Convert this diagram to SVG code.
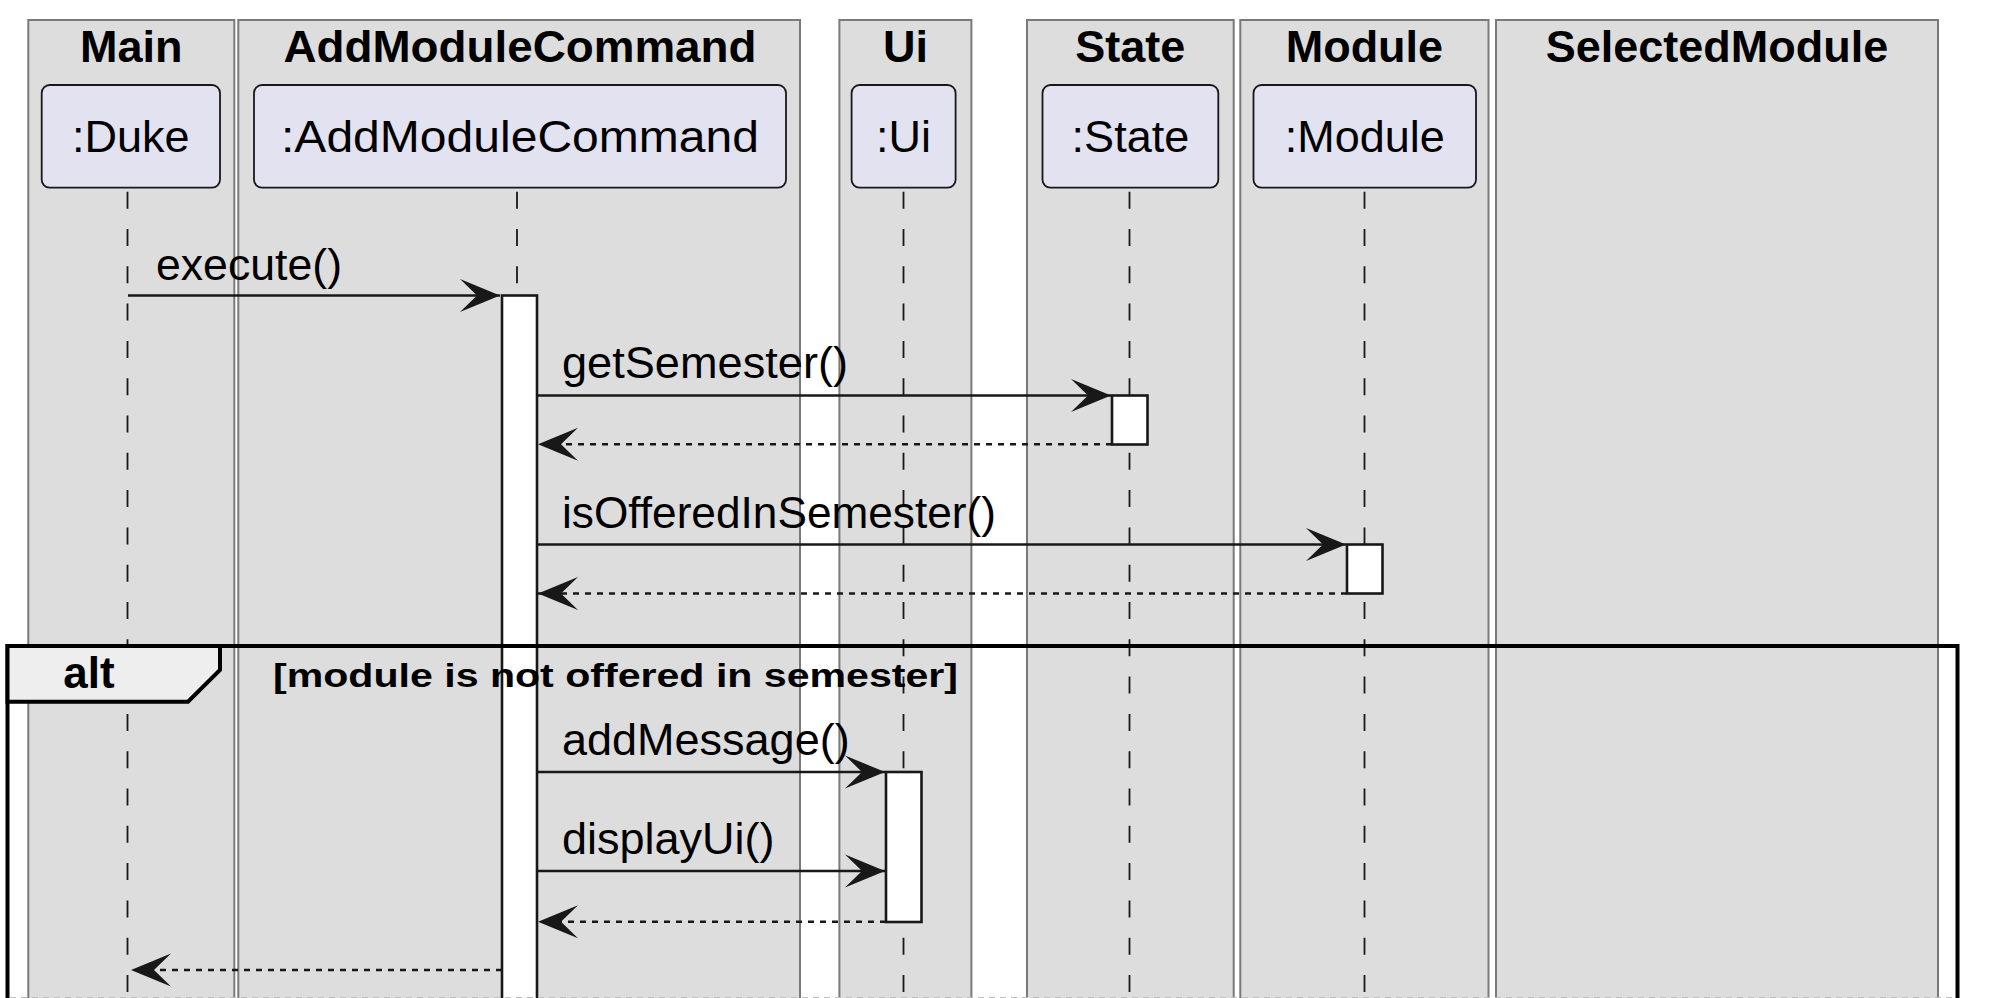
<svg xmlns="http://www.w3.org/2000/svg" width="1990" height="998" viewBox="0 0 1990 998">
<defs>
<style>
.box{fill:#DDDDDD;stroke:#7a7a7a;stroke-width:2}
.title{font-family:"Liberation Sans",Arial,sans-serif;font-weight:bold;font-size:45px;fill:#000;text-anchor:middle}
.part{fill:#E2E2F0;stroke:#181818;stroke-width:1.8}
.ptext{font-family:"Liberation Sans",Arial,sans-serif;font-size:45px;fill:#000;text-anchor:middle}
.life{stroke:#181818;stroke-width:1.8;stroke-dasharray:17,20.3;fill:none}
.act{fill:#FFFFFF;stroke:#181818;stroke-width:2.6}
.msg{stroke:#181818;stroke-width:2.6;fill:none;marker-end:url(#arr)}
.ret{stroke:#181818;stroke-width:2.6;fill:none;stroke-dasharray:6,6;marker-end:url(#arr)}
.mtext{font-family:"Liberation Sans",Arial,sans-serif;font-size:45px;fill:#000}
.frame{fill:none;stroke:#000;stroke-width:4}
.tab{fill:#EEEEEE;stroke:#000;stroke-width:4;stroke-linejoin:miter}
.alt{font-family:"Liberation Sans",Arial,sans-serif;font-weight:bold;font-size:44px;fill:#000;text-anchor:middle}
.guard{font-family:"Liberation Sans",Arial,sans-serif;font-weight:bold;font-size:34px;fill:#000}
</style>
<marker id="arr" viewBox="-41 -17 42 34" refX="0" refY="0" markerWidth="42" markerHeight="34" markerUnits="userSpaceOnUse" orient="auto">
<path d="M0,0 L-40,-16.5 L-23,0 L-40,16.5 Z" fill="#181818" stroke="none"/>
</marker>
</defs>
<rect width="1990" height="998" fill="#FFFFFF"/>

<g id="box-Main">
<rect class="box" x="28.3" y="20" width="206" height="1000"/>
<text class="title" x="131.3" y="61.7">Main</text>
</g>
<g id="box-AddModuleCommand">
<rect class="box" x="238.3" y="20" width="561.7" height="1000"/>
<text class="title" x="520" y="61.7" textLength="473" lengthAdjust="spacingAndGlyphs">AddModuleCommand</text>
</g>
<g id="box-Ui">
<rect class="box" x="839.4" y="20" width="132" height="1000"/>
<text class="title" x="905.4" y="61.7">Ui</text>
</g>
<g id="box-State">
<rect class="box" x="1027" y="20" width="206.7" height="1000"/>
<text class="title" x="1130.3" y="61.7">State</text>
</g>
<g id="box-Module">
<rect class="box" x="1240.3" y="20" width="248.2" height="1000"/>
<text class="title" x="1364.4" y="61.7">Module</text>
</g>
<g id="box-SelectedModule">
<rect class="box" x="1496" y="20" width="442" height="1000"/>
<text class="title" x="1717" y="61.7">SelectedModule</text>
</g>

<g id="lifelines">
<line class="life" x1="127.5" y1="191.7" x2="127.5" y2="998"/>
<line class="life" x1="517" y1="191.7" x2="517" y2="998"/>
<line class="life" x1="903.5" y1="191.7" x2="903.5" y2="998"/>
<line class="life" x1="1129.5" y1="191.7" x2="1129.5" y2="998"/>
<line class="life" x1="1364.5" y1="191.7" x2="1364.5" y2="998"/>
</g>

<g id="p-Duke">
<rect class="part" x="41.7" y="85" width="178.3" height="102.7" rx="8"/>
<text class="ptext" x="130.8" y="152.3">:Duke</text>
</g>
<g id="p-AddModuleCommand">
<rect class="part" x="254" y="85" width="532" height="102.7" rx="8"/>
<text class="ptext" x="520" y="152.3" textLength="478" lengthAdjust="spacingAndGlyphs">:AddModuleCommand</text>
</g>
<g id="p-Ui">
<rect class="part" x="851.6" y="85" width="104" height="102.7" rx="8"/>
<text class="ptext" x="903.6" y="152.3">:Ui</text>
</g>
<g id="p-State">
<rect class="part" x="1042.5" y="85" width="175.8" height="102.7" rx="8"/>
<text class="ptext" x="1130.4" y="152.3">:State</text>
</g>
<g id="p-Module">
<rect class="part" x="1253.5" y="85" width="222.5" height="102.7" rx="8"/>
<text class="ptext" x="1364.7" y="152.3">:Module</text>
</g>

<g id="activations">
<rect class="act" x="502" y="295.5" width="35" height="720"/>
<rect class="act" x="1112" y="395.5" width="35.5" height="49"/>
<rect class="act" x="1347" y="544.5" width="35.5" height="49"/>
<rect class="act" x="886" y="772" width="35.5" height="150"/>
</g>

<g id="alt-frame">
<path class="frame" d="M7.5,1010 V646 H1957.5 V1010"/>
<polygon class="tab" points="7.5,646 220,646 220,670 188,701.7 7.5,701.7"/>
<text class="alt" x="89" y="688">alt</text>
<line x1="10" y1="997.5" x2="1955" y2="997.5" stroke="#bdbdbd" stroke-width="1.2" stroke-dasharray="6,5"/>
</g>

<g id="connectors">
<line class="msg" x1="128" y1="295.5" x2="500" y2="295.5"/>
<line class="msg" x1="537" y1="395.5" x2="1111" y2="395.5"/>
<line class="ret" x1="1112" y1="444.3" x2="538" y2="444.3"/>
<line class="msg" x1="537" y1="544.5" x2="1346" y2="544.5"/>
<line class="ret" x1="1347" y1="593.5" x2="538" y2="593.5"/>
<line class="msg" x1="537" y1="772" x2="885" y2="772"/>
<line class="msg" x1="537" y1="871" x2="885" y2="871"/>
<line class="ret" x1="886" y1="921.7" x2="538" y2="921.7"/>
<line class="ret" x1="502" y1="970" x2="131" y2="970"/>
</g>

<g id="labels">
<text class="mtext" x="156" y="280" textLength="186" lengthAdjust="spacingAndGlyphs">execute()</text>
<text class="mtext" x="562" y="378" textLength="286" lengthAdjust="spacingAndGlyphs">getSemester()</text>
<text class="mtext" x="562" y="527.5" textLength="434" lengthAdjust="spacingAndGlyphs">isOfferedInSemester()</text>
<text class="guard" x="273" y="687" textLength="685" lengthAdjust="spacingAndGlyphs">[module is not offered in semester]</text>
<text class="mtext" x="562" y="755">addMessage()</text>
<text class="mtext" x="562" y="853.5">displayUi()</text>
</g>
</svg>
